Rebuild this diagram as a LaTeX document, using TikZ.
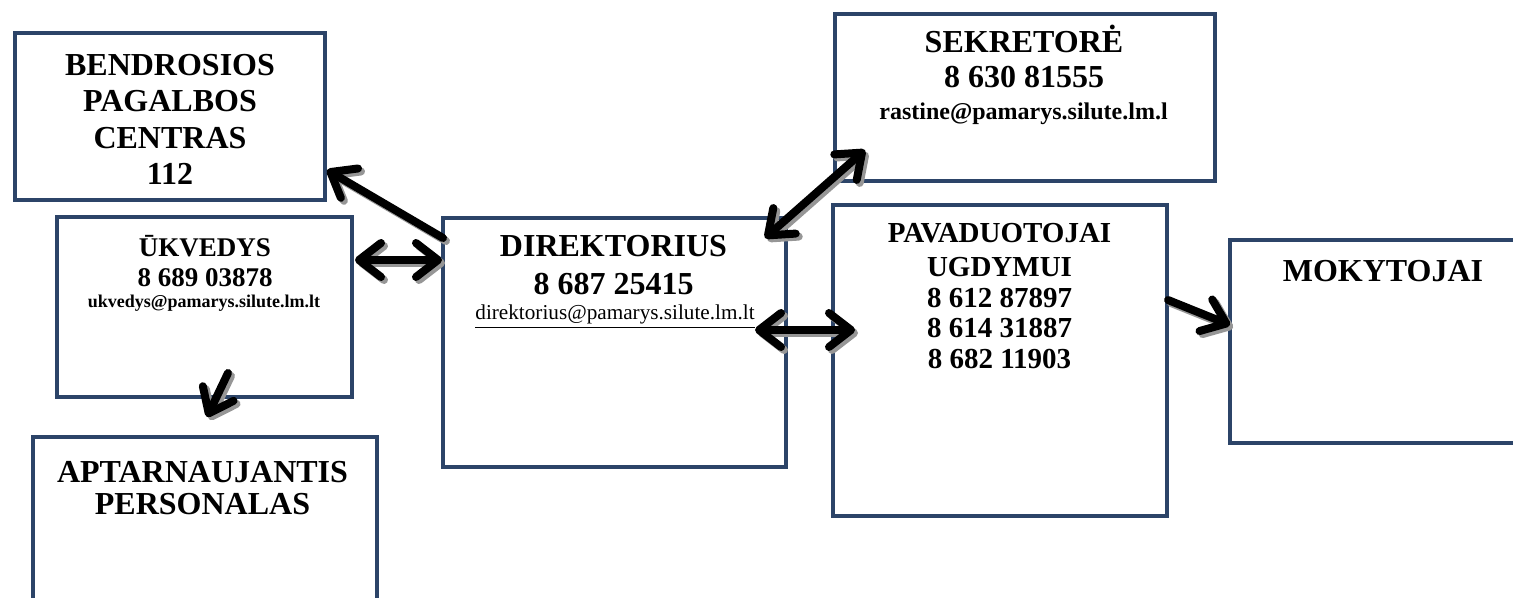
\documentclass[tikz,border=0pt]{standalone}
\usepackage{fontspec}
\setmainfont{Liberation Serif}
\usetikzlibrary{arrows.meta,calc,fit}
\definecolor{boxblue}{RGB}{44,68,104}
\definecolor{shadowgray}{RGB}{150,150,150}

\tikzset{
  box/.style={draw=boxblue, line width=2pt, inner sep=0pt, outer sep=0pt},
  title/.style={align=center, anchor=base, inner sep=0pt},
  barb/.tip={Straight Barb[length=11pt,width=17pt,round]},
  link/.style={line width=4pt, line cap=round, -barb},
  twoway/.style={link, barb-barb}
}

\begin{document}
\begin{tikzpicture}[x=0.5pt, y=-0.5pt]
\path[clip] (0,0) rectangle (1513,598);

% boxes
\node[box, fit={(15,33) (325,200)}] (bpc) {};
\node[box, fit={(57,217) (352,397)}] (ukv) {};
\node[box, fit={(33,437) (377,650)}] (apt) {};
\node[box, fit={(443,218) (786,467)}] (dir) {};
\node[box, fit={(835,14) (1215,181)}] (sek) {};
\node[box, fit={(833,205) (1167,516)}] (pav) {};
\node[box, fit={(1230,240) (1560,443)}] (mok) {};

% texts (anchored at the last baseline)
\node[title, font=\bfseries\fontsize{16}{18.25}\selectfont] (bpctxt) at (170,185)
  {BENDROSIOS\\PAGALBOS\\CENTRAS\\112};
\node[title, font=\bfseries\fontsize{13.5}{15}\selectfont] (ukvtxt) at (205,287)
  {ŪKVEDYS\\8 689 03878};
\node[title, font=\bfseries\fontsize{9}{10}\selectfont] (ukvmail) at (204,307)
  {ukvedys@pamarys.silute.lm.lt};
\node[title, font=\bfseries\fontsize{16}{16}\selectfont] (apttxt) at (202.5,514)
  {APTARNAUJANTIS\\PERSONALAS};
\node[title, font=\bfseries\fontsize{16}{19}\selectfont] (dirtxt) at (613.5,295)
  {DIREKTORIUS\\8 687 25415};
\node[title, font=\fontsize{10.6}{12}\selectfont] (dirmail) at (615,320)
  {\underline{direktorius@pamarys.silute.lm.lt}};
\node[title, font=\bfseries\fontsize{16}{17.5}\selectfont] (sektxt) at (1024,88)
  {SEKRETORĖ\\8 630 81555};
\node[title, font=\bfseries\fontsize{12}{14}\selectfont] (sekmail) at (1023.5,120)
  {rastine@pamarys.silute.lm.l};
\node[title, font=\bfseries\fontsize{14.5}{15.25}\selectfont] (pavtxt) at (999.5,368)
  {PAVADUOTOJAI\\[1.75pt]UGDYMUI\\8 612 87897\\8 614 31887\\8 682 11903};
\node[title, font=\bfseries\fontsize{16}{18}\selectfont] (moktxt) at (1383,282)
  {MOKYTOJAI};

% arrows, first the gray shadow, then black
\foreach \tone/\off in {shadowgray/1.5pt, black/0pt} {
\begin{scope}[color=\tone, transform canvas={xshift=\off, yshift=-\off}]
\draw[link] ($(dir.north west)+(0,20)$) -- ($(bpc.south east)+(2,-30)$);
\draw[twoway] ($(ukv.north east)+(3,43)$) -- ($(dir.north west)+(-1,42)$);
\draw[twoway] ($(dir.north east)+(-21,20)$) -- ($(sek.south west)+(30,-31)$);
\draw[twoway] ($(dir.north east)+(-31,112)$) -- ($(pav.north west)+(22,125)$);
\draw[link] ($(pav.north east)+(1,95)$) -- ($(mok.north west)+(0,85)$);
\draw[link] ($(ukv.south west)+(171,-24)$) -- ($(apt.north west)+(174,-20)$);
\end{scope}
}
\end{tikzpicture}
\end{document}
